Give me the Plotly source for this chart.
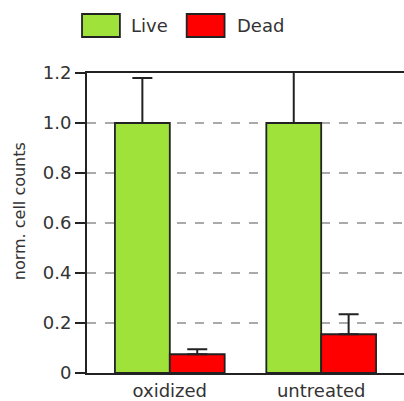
import plotly.graph_objects as go

categories = ["oxidized", "untreated"]
live_values = [1.0, 1.0]
live_errors = [0.18, 0.25]
dead_values = [0.075, 0.155]
dead_errors = [0.02, 0.08]
y_tick_vals = [0, 0.2, 0.4, 0.6, 0.8, 1.0, 1.2]
y_tick_text = ["0", "0.2", "0.4", "0.6", "0.8", "1.0", "1.2"]
y_title = "norm. cell counts"

GREEN = "#9EE23A"
RED = "#FF0000"
EDGE = "#222222"
TEXT = "#333333"
FONT = "DejaVu Sans"

fig = go.Figure()
fig.add_trace(go.Bar(
    name="Live", x=categories, y=live_values,
    marker=dict(color=GREEN, line=dict(color=EDGE, width=1.8)),
    error_y=dict(type="data", array=live_errors, symmetric=False, arrayminus=[0, 0],
                 color=EDGE, thickness=2, width=10),
    showlegend=False,
))
fig.add_trace(go.Bar(
    name="Dead", x=categories, y=dead_values,
    marker=dict(color=RED, line=dict(color=EDGE, width=1.8)),
    error_y=dict(type="data", array=dead_errors, symmetric=False, arrayminus=[0, 0],
                 color=EDGE, thickness=2, width=10),
    showlegend=False,
))

# custom legend (large swatches) and axis title placed in paper coordinates
W, H = 318.0, 300.0
def px(x):
    return (x - 87) / W
def py(y):
    return (373 - y) / H

shapes = []
annotations = []
for name, color, x0, x1, tx in [("Live", GREEN, 82, 120, 129), ("Dead", RED, 187, 225, 235)]:
    shapes.append(dict(type="rect", xref="paper", yref="paper",
                       x0=px(x0), x1=px(x1), y0=py(37), y1=py(14),
                       fillcolor=color, line=dict(color=EDGE, width=1.8)))
    annotations.append(dict(text=name, xref="paper", yref="paper", x=px(tx), y=py(25.5),
                            xanchor="left", yanchor="middle", showarrow=False,
                            font=dict(family=FONT, size=18, color=TEXT)))
annotations.append(dict(text=y_title, xref="paper", yref="paper", x=px(19), y=py(211),
                        xanchor="center", yanchor="middle", textangle=-90, showarrow=False,
                        font=dict(family=FONT, size=16, color=TEXT)))

fig.update_layout(
    width=404, height=401,
    margin=dict(l=87, r=0, t=73, b=28, autoexpand=False),
    plot_bgcolor="white", paper_bgcolor="white",
    barmode="group", bargap=0.275, bargroupgap=0,
    shapes=shapes, annotations=annotations,
    font=dict(family=FONT, color=TEXT),
)
fig.update_xaxes(
    range=[-0.547, 1.547], showline=True, linecolor=EDGE, linewidth=2, mirror=True,
    ticks="", showgrid=False, tickfont=dict(size=18, family=FONT, color=TEXT),
)
fig.update_yaxes(
    range=[0, 1.2], tickvals=y_tick_vals, ticktext=y_tick_text,
    showline=True, linecolor=EDGE, linewidth=2, ticks="outside", ticklen=10,
    tickcolor=EDGE, tickwidth=2,
    showgrid=True, gridcolor="#AAAAAA", griddash="dash", gridwidth=1.5,
    zeroline=False, tickfont=dict(size=18, family=FONT, color=TEXT),
)

fig.write_html("out.html", config={"displayModeBar": False},
               post_script="document.body.style.margin='0';")
